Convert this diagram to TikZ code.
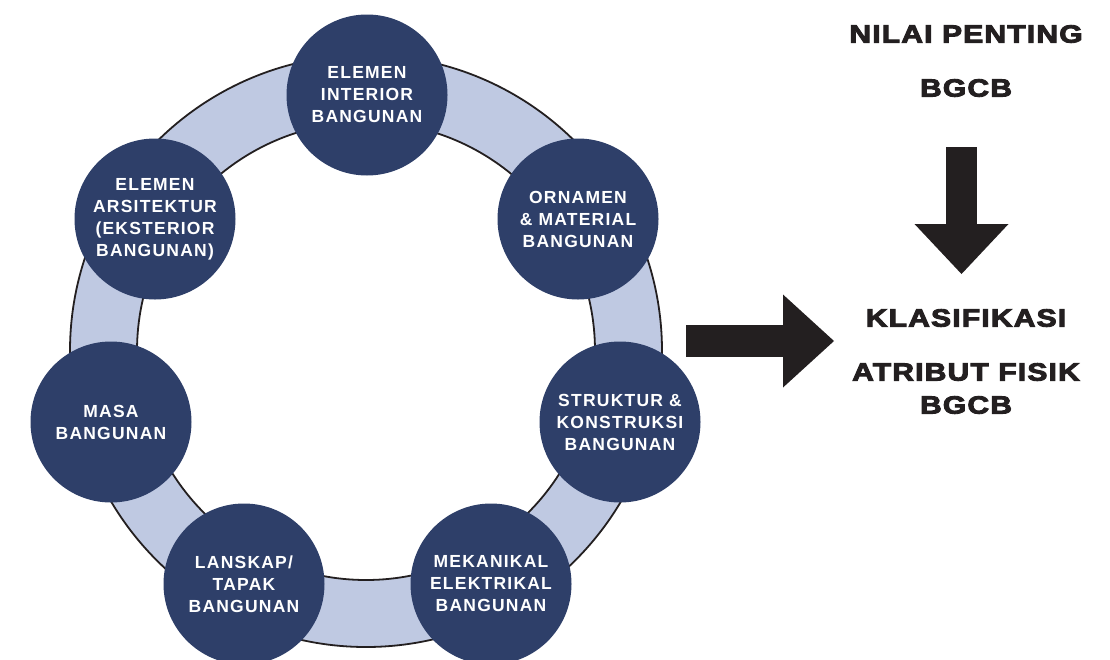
\documentclass[tikz,border=0pt]{standalone}
\usepackage{fontspec}
\usepackage{graphicx}
\usetikzlibrary{arrows.meta}
\newfontfamily\circfont[LetterSpace=7]{Liberation Sans}
\newfontfamily\heavyfont[LetterSpace=4,FakeBold=3.5]{Liberation Sans}
\newcommand\hstretch[1]{\scalebox{1.2}[1]{#1}}
\definecolor{navy}{HTML}{2E3F69}
\definecolor{ringfill}{HTML}{BFC9E2}
\definecolor{inkblack}{HTML}{231F20}
\tikzset{
  bubble/.style={circle, fill=navy, minimum size=161pt, inner sep=0pt,
    text=white, align=center, font=\circfont\bfseries\fontsize{17.5}{22}\selectfont},
  heavytext/.style={text=inkblack, align=center, inner sep=0pt,
    font=\heavyfont\bfseries\fontsize{25}{33}\selectfont},
  bigarrow/.style={draw=inkblack, line width=31pt,
    -{Triangle[width=94pt,length=50pt,line width=0pt]}}
}
\begin{document}
\begin{tikzpicture}[x=1pt,y=-1pt]
\useasboundingbox (0,0) rectangle (1110,659);
\clip (0,0) rectangle (1110,659);
% ring
\coordinate (rc) at (366,351);
\fill[ringfill, even odd rule] (rc) circle (296pt) (rc) circle (229pt);
\draw[inkblack, line width=1.8pt] (rc) circle (296pt);
\draw[inkblack, line width=1.8pt] (rc) circle (229pt);
% bubbles
\node[bubble] (interior) at (367,95) {ELEMEN\\INTERIOR\\BANGUNAN};
\node[bubble] (ornamen) at (578,219) {ORNAMEN\\\& MATERIAL\\BANGUNAN};
\node[bubble] (struktur) at (620,422) {STRUKTUR \&\\KONSTRUKSI\\BANGUNAN};
\node[bubble] (mekanikal) at (491,584) {MEKANIKAL\\ELEKTRIKAL\\BANGUNAN};
\node[bubble] (lanskap) at (244,584) {LANSKAP/\\TAPAK\\BANGUNAN};
\node[bubble] (masa) at (111,422) {MASA\\BANGUNAN};
\node[bubble] (arsitektur) at (155,219) {ELEMEN\\ARSITEKTUR\\(EKSTERIOR\\BANGUNAN)};
% right texts
\node[heavytext] (nilai) at (966,34) {\hstretch{NILAI PENTING}};
\node[heavytext] (bgcb1) at (966,88) {\hstretch{BGCB}};
\node[heavytext] (klas) at (966,318) {\hstretch{KLASIFIKASI}};
\node[heavytext] (atribut) at (966,388.5) {\hstretch{ATRIBUT FISIK}\\\hstretch{BGCB}};
% arrows
\coordinate (dstart) at (961.5,147);
\coordinate (dend) at (961.5,274);
\draw[bigarrow] (dstart) -- (dend);
\coordinate (rstart) at (686,341);
\coordinate (rend) at (834,341);
\draw[bigarrow, line width=32pt, -{Triangle[width=93pt,length=51pt,line width=0pt]}] (rstart) -- (rend);
\end{tikzpicture}
\end{document}
